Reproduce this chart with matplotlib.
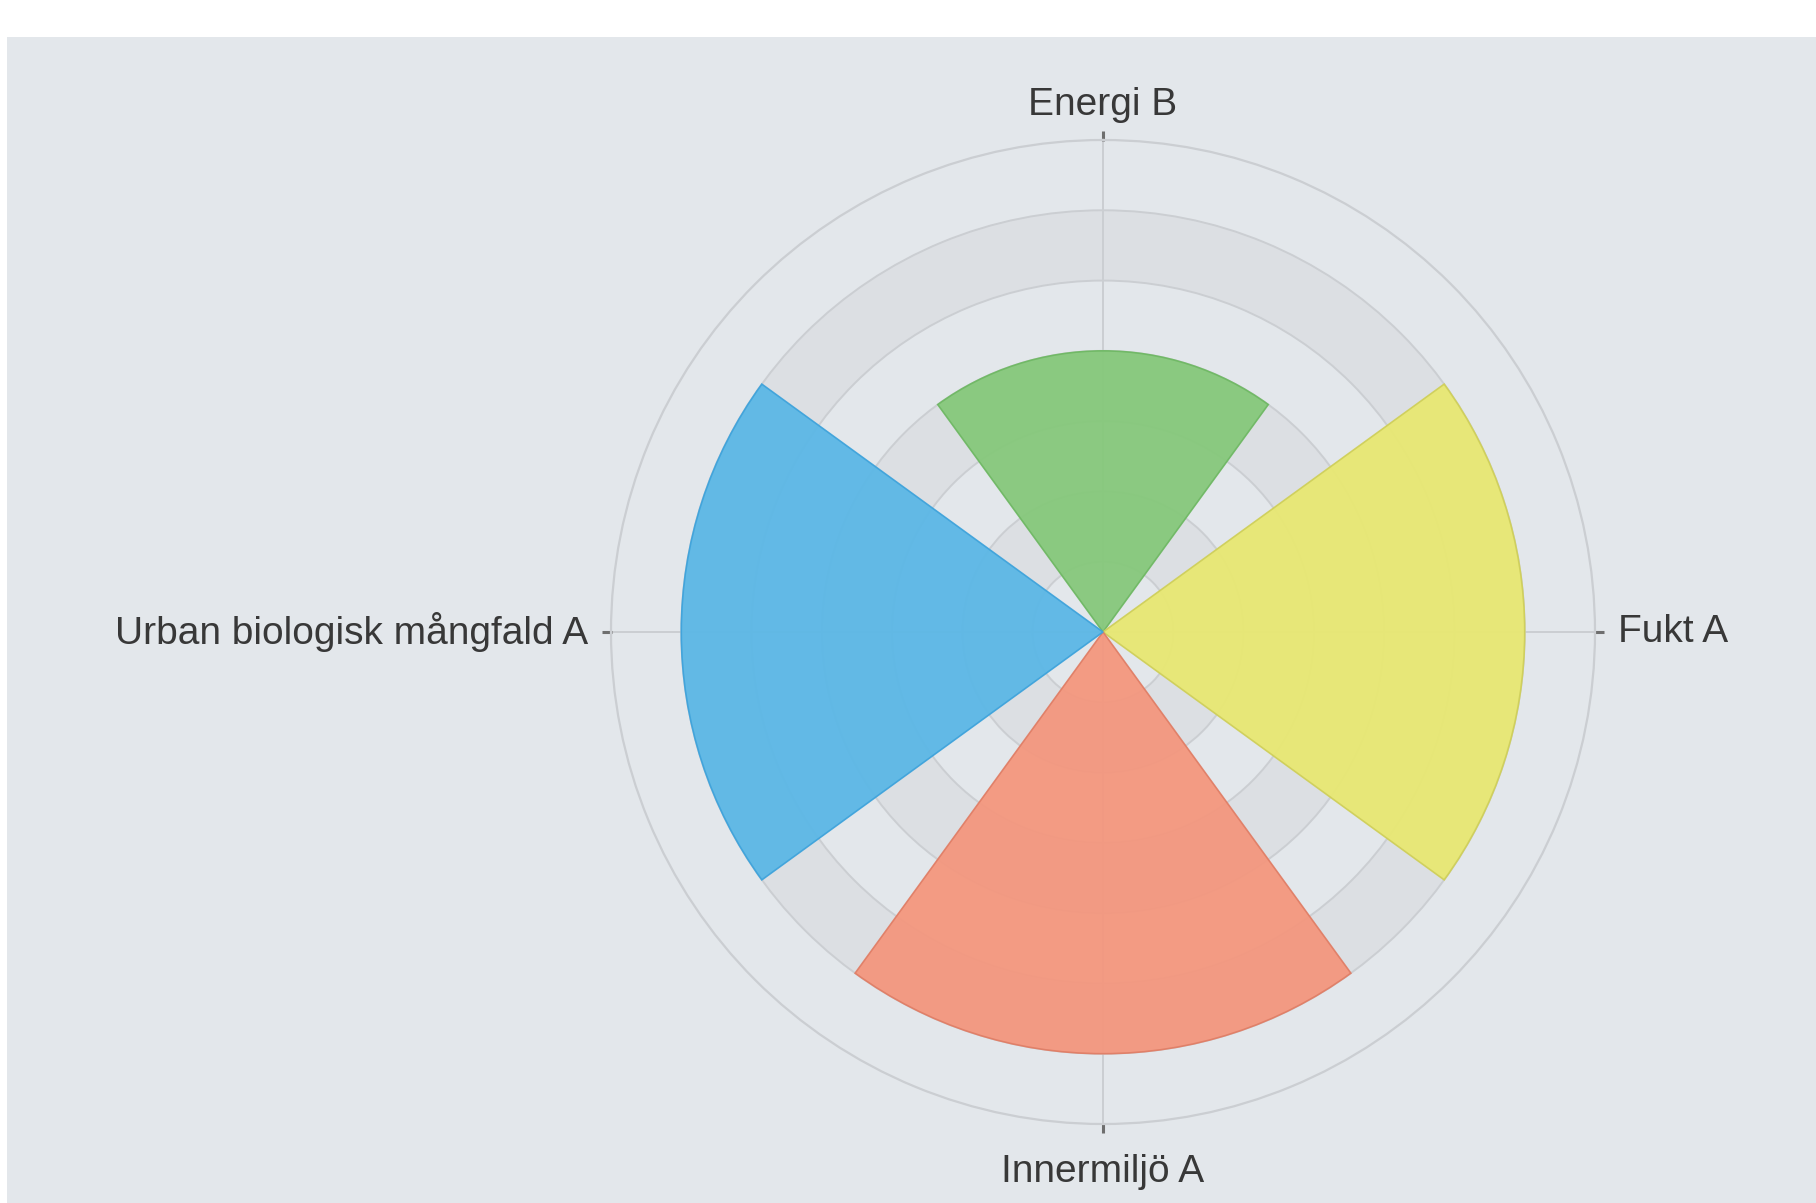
import numpy as np
import matplotlib.pyplot as plt

# Data
categories = ["Energi B", "Fukt A", "Innermiljö A", "Urban biologisk mångfald A"]
values = [4, 6, 6, 6]
colors = ["#86c87b", "#e8e872", "#f4977e", "#5bb7e6"]
edge_colors = ["#6fb864", "#cfcf5a", "#e07e66", "#3fa3db"]
r_ticks = [1, 2, 3, 4, 5, 6]
r_max = 7

plt.rcParams['font.family'] = ['Liberation Sans', 'DejaVu Sans']

fig = plt.figure(figsize=(18.16, 12.03), dpi=100, facecolor="white")

# grey panel with white strip on top and left
bg = "#e3e7eb"
bg_ax = fig.add_axes([0.0039, 0.0, 1.0, 0.9692], zorder=-1)
bg_ax.set_facecolor(bg)
bg_ax.set_xticks([])
bg_ax.set_yticks([])
for s in bg_ax.spines.values():
    s.set_visible(False)

cx, cy = 1103 / 1816, 1 - 632 / 1203
rw, rh = 492 / 1816, 492 / 1203
ax = fig.add_axes([cx - rw, cy - rh, 2 * rw, 2 * rh], projection="polar")
ax.set_facecolor("none")
ax.set_theta_zero_location("N")
ax.set_theta_direction(-1)
ax.set_axisbelow(True)

# alternating bands
for r0 in [1, 3, 5]:
    ax.bar(0, 1, width=2 * np.pi, bottom=r0, color="#dcdfe3", linewidth=0, zorder=0.1)

n = len(categories)
theta = np.arange(n) * 2 * np.pi / n
width = 0.8 * 2 * np.pi / n
ax.bar(theta, values, width=width, color=colors, edgecolor=edge_colors,
       linewidth=1.2, alpha=0.95, zorder=1)

ax.set_rlim(0, r_max)
ax.set_rticks(r_ticks)
ax.set_yticklabels([])
ax.set_xticks(theta)
ax.set_xticklabels([])
ax.tick_params(axis="x", length=0)
ax.grid(True, color="#cbced2", linewidth=1.4)
ax.spines["polar"].set_color("#cbced2")
ax.spines["polar"].set_linewidth(1.6)

# tick marks and category labels outside the circle
label_pos = [(7.5, "center", "center"), (7.33, "left", "center"),
             (7.68, "center", "center"), (7.33, "right", "center")]
for t, name, (rr, ha, va) in zip(theta, categories, label_pos):
    ax.plot([t, t], [r_max - 0.02, r_max + 0.13], color="#6e6e6e", lw=2.2,
            clip_on=False, solid_capstyle="butt")
    ax.text(t, rr, name, ha=ha, va=va, fontsize=28, color="#383838")

fig.savefig("out.png", dpi=100, facecolor="white")
